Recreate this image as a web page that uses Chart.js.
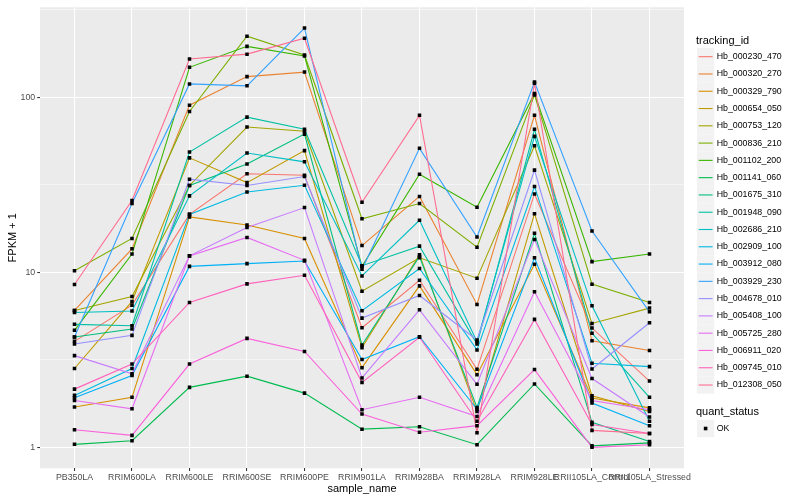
<!DOCTYPE html>
<html><head><meta charset="utf-8">
<script src="https://cdn.jsdelivr.net/npm/chart.js@4/dist/chart.umd.min.js"></script>
<style>html,body{margin:0;padding:0;background:#fff}#wrap{width:800px;height:500px;position:relative}</style>
</head><body><div id="wrap"><canvas id="c" width="800" height="500"></canvas></div>
<script>
const categories = ['PB350LA','RRIM600LA','RRIM600LE','RRIM600SE','RRIM600PE','RRIM901LA','RRIM928BA','RRIM928LA','RRIM928LE','RRII105LA_Control','RRII105LA_Stressed'];
const seriesNames = ['Hb_000230_470','Hb_000320_270','Hb_000329_790','Hb_000654_050','Hb_000753_120','Hb_000836_210','Hb_001102_200','Hb_001141_060','Hb_001675_310','Hb_001948_090','Hb_002686_210','Hb_002909_100','Hb_003912_080','Hb_003929_230','Hb_004678_010','Hb_005408_100','Hb_005725_280','Hb_006911_020','Hb_009745_010','Hb_012308_050'];

const hb_000230_470 = [4.03, 6.49, 21.4, 36.5, 35.8, 4.82, 9.00, 2.79, 28.0, 4.80, 2.39];
const hb_000320_270 = [6.05, 13.6, 90.0, 131, 139, 14.2, 27.1, 6.55, 78.7, 4.06, 3.57];
const hb_000329_790 = [1.70, 1.93, 20.7, 18.6, 15.6, 2.85, 8.36, 2.60, 11.1, 1.91, 1.68];
const hb_000654_050 = [2.82, 6.81, 45.0, 32.5, 49.5, 3.71, 12.6, 1.60, 21.6, 1.97, 1.60];
const hb_000753_120 = [6.05, 7.27, 31.3, 67.5, 63.8, 7.79, 12.1, 9.25, 52.8, 5.10, 6.24];
const hb_000836_210 = [10.2, 15.6, 82.8, 223, 174, 20.2, 24.7, 13.9, 103, 8.55, 6.72];
const hb_001102_200 = [4.66, 12.7, 148, 195, 172, 10.8, 36.3, 23.5, 105, 11.5, 12.7];
const hb_001141_060 = [1.04, 1.09, 2.20, 2.55, 2.04, 1.27, 1.31, 1.035, 2.30, 1.02, 1.06];
const hb_001675_310 = [4.27, 4.74, 31.3, 41.5, 61.5, 3.84, 12.3, 1.69, 16.7, 1.39, 1.08];
const hb_001948_090 = [5.04, 4.95, 48.6, 76.9, 65.5, 10.9, 14.1, 3.89, 65.5, 4.48, 1.93];
const hb_002686_210 = [5.89, 6.00, 27.3, 48.0, 42.7, 9.53, 19.8, 4.01, 59.7, 6.43, 1.41];
const hb_002909_100 = [1.98, 2.82, 21.4, 28.7, 31.4, 6.03, 10.5, 3.60, 30.9, 3.02, 2.89];
const hb_003912_080 = [1.92, 2.57, 10.8, 11.2, 11.6, 3.17, 4.28, 1.65, 12.1, 1.79, 1.33];
const hb_003929_230 = [4.27, 24.7, 119, 116, 248, 10.4, 51.0, 15.9, 122, 17.2, 5.94];
const hb_004678_010 = [3.89, 4.36, 34.0, 31.3, 35.2, 5.47, 7.37, 4.10, 38.3, 2.80, 5.15];
const hb_005408_100 = [3.34, 2.63, 12.4, 18.0, 23.4, 2.49, 6.10, 2.29, 15.4, 2.47, 1.49];
const hb_005725_280 = [1.85, 1.66, 12.4, 15.8, 11.7, 1.64, 1.93, 1.50, 7.73, 1.85, 1.64];
const hb_006911_020 = [1.26, 1.17, 2.99, 4.19, 3.53, 1.55, 1.22, 1.33, 2.78, 1.00, 1.035];
const hb_009745_010 = [2.15, 2.99, 6.72, 8.58, 9.61, 2.35, 4.25, 1.41, 5.38, 1.35, 1.20];
const hb_012308_050 = [8.51, 25.7, 165, 176, 217, 25.1, 78.7, 1.21, 120, 1.25, 1.20];

const seriesValues = [hb_000230_470, hb_000320_270, hb_000329_790, hb_000654_050, hb_000753_120, hb_000836_210, hb_001102_200, hb_001141_060, hb_001675_310, hb_001948_090, hb_002686_210, hb_002909_100, hb_003912_080, hb_003929_230, hb_004678_010, hb_005408_100, hb_005725_280, hb_006911_020, hb_009745_010, hb_012308_050];
const seriesColors = ['#F8766D','#EA8331','#D89000','#C09B00','#A3A500','#7CAE00','#39B600','#00BB4E','#00BF7D','#00C1A3','#00BFC4','#00BAE0','#00B0F6','#35A2FF','#9590FF','#C77CFF','#E76BF3','#FA62DB','#FF62BC','#FF6C91'];
const yMajorTicks = [1, 10, 100];
const yMinorTicks = [3.162, 31.62, 316.2];
const statusLabels = ['OK'];

const FONT = '"Liberation Sans", Arial, sans-serif';
Chart.defaults.font.family = FONT;

const datasets = [];
seriesValues.forEach((vals, i) => {
  datasets.push({
    label: seriesNames[i],
    data: vals.map((v, j) => ({x: j, y: v})),
    borderColor: seriesColors[i], backgroundColor: seriesColors[i],
    borderWidth: 1.1, pointRadius: 0, fill: false, tension: 0,
    order: 100 - i
  });
});
seriesValues.forEach((vals, i) => {
  datasets.push({
    label: seriesNames[i] + ' ' + statusLabels[0],
    data: vals.map((v, j) => ({x: j, y: v})),
    showLine: false, pointStyle: 'rect', pointRadius: 2.5,
    pointBackgroundColor: '#000', pointBorderWidth: 0, pointBorderColor: '#000',
    order: -1
  });
});

const isMajor = v => yMajorTicks.some(m => Math.abs(m - v) < 1e-9);

const panelBg = {
  id: 'panelBg',
  beforeDraw(chart) {
    const a = chart.chartArea, ctx = chart.ctx;
    ctx.save(); ctx.fillStyle = '#EBEBEB';
    ctx.fillRect(a.left, a.top, a.right - a.left, a.bottom - a.top);
    ctx.restore();
  }
};

const ggLegend = {
  id: 'ggLegend',
  afterDraw(chart) {
    const ctx = chart.ctx;
    ctx.save();
    ctx.textBaseline = 'middle'; ctx.textAlign = 'left';
    ctx.fillStyle = '#000'; ctx.font = '11px ' + FONT;
    ctx.fillText('tracking_id', 696, 40.7);
    const k = 17.28;
    seriesNames.forEach((n, i) => {
      const cy = 56.7 + k * i;
      ctx.fillStyle = '#F2F2F2';
      ctx.fillRect(697, cy - k / 2, k, k);
      ctx.strokeStyle = seriesColors[i]; ctx.lineWidth = 1.1;
      ctx.beginPath(); ctx.moveTo(698.7, cy); ctx.lineTo(712.6, cy); ctx.stroke();
      ctx.fillStyle = '#000'; ctx.font = '8.8px ' + FONT;
      ctx.fillText(n, 716.7, cy);
    });
    ctx.fillStyle = '#000'; ctx.font = '11px ' + FONT;
    ctx.fillText('quant_status', 696, 411.7);
    const cy = 428.5;
    ctx.fillStyle = '#F2F2F2';
    ctx.fillRect(697, cy - k / 2, k, k);
    ctx.fillStyle = '#000';
    ctx.fillRect(705.6 - 1.8, cy - 1.8, 3.6, 3.6);
    ctx.font = '8.8px ' + FONT;
    ctx.fillText(statusLabels[0], 716.7, cy);
    ctx.restore();
  }
};

new Chart(document.getElementById('c'), {
  type: 'line',
  data: { datasets },
  plugins: [panelBg, ggLegend],
  options: {
    responsive: false, animation: false, devicePixelRatio: 1,
    layout: { padding: { top: 5.5, right: 116, left: 0, bottom: 0 } },
    plugins: { legend: { display: false }, tooltip: { enabled: false } },
    scales: {
      x: {
        type: 'linear', min: -0.6, max: 10.6,
        afterBuildTicks: s => { s.ticks = categories.map((c, i) => ({ value: i })); },
        afterFit: s => { s.height = 31.7; },
        ticks: {
          autoSkip: false, maxRotation: 0, minRotation: 0, padding: 1,
          color: '#4D4D4D', font: { size: 8.8 },
          callback: v => categories[Math.round(v)]
        },
        grid: { color: '#FFFFFF', lineWidth: 1.07, tickLength: 2.75, tickColor: '#333333', tickWidth: 1.07 },
        border: { display: false },
        title: { display: true, text: 'sample_name', color: '#000', font: { size: 11 }, padding: { top: 0, bottom: 4.4 } }
      },
      y: {
        type: 'logarithmic', min: 0.759, max: 326,
        afterBuildTicks: s => {
          s.ticks = yMajorTicks.concat(yMinorTicks).sort((a, b) => a - b).map(v => ({ value: v }));
        },
        afterFit: s => { s.width = 40; },
        ticks: {
          autoSkip: false, padding: 2,
          color: '#4D4D4D', font: { size: 8.8 },
          callback: v => isMajor(v) ? String(v) : ''
        },
        grid: {
          color: '#FFFFFF',
          lineWidth: ctx => (ctx.tick && isMajor(ctx.tick.value)) ? 1.07 : 0.53,
          tickLength: 2.75,
          tickColor: ctx => (ctx.tick && isMajor(ctx.tick.value)) ? '#333333' : 'rgba(0,0,0,0)',
          tickWidth: 1.07
        },
        border: { display: false },
        title: { display: true, text: 'FPKM + 1', color: '#000', font: { size: 11 }, padding: { top: 6, bottom: 0 } }
      }
    }
  }
});
</script></body></html>
